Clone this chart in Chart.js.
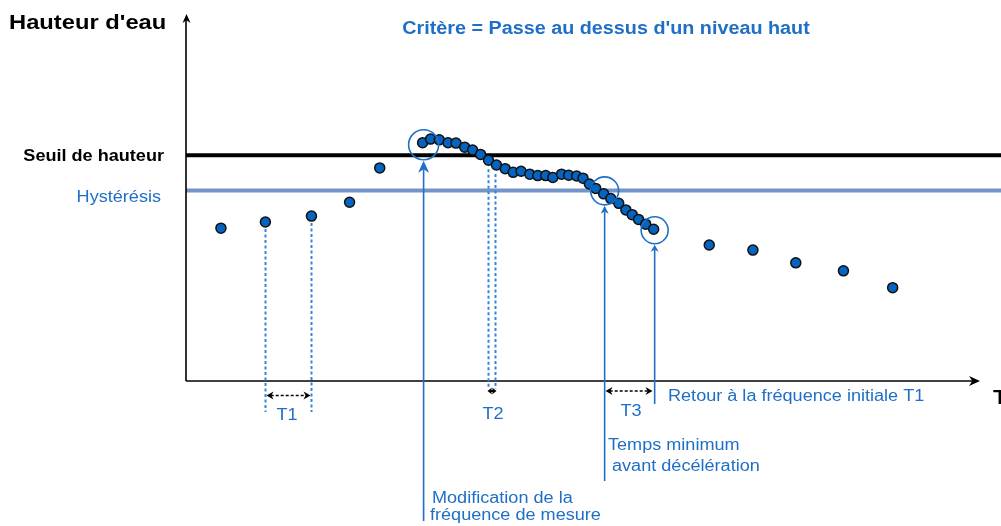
<!DOCTYPE html>
<html>
<head>
<meta charset="utf-8">
<script src="https://cdn.jsdelivr.net/npm/chart.js@4"></script>
<style>
  body { margin: 0; background: #fff; }
  canvas { display: block; }
</style>
</head>
<body>
<canvas id="niveau" width="1001" height="526"></canvas>
<script>
// Mesures de hauteur d'eau (temps, hauteur) en unités arbitraires
const temps = [
    4.4, 10.0, 15.8, 20.6, 24.4,
    29.8, 30.8, 31.9, 33.0, 34.0, 35.1, 36.1, 37.1, 38.1, 39.1,
    40.2, 41.2, 42.2, 43.3, 44.3, 45.3, 46.2, 47.3, 48.2, 49.2,
    50.0, 50.8, 51.6, 52.6, 53.5, 54.5, 55.4, 56.2, 57.0, 57.9, 58.9,
    65.9, 71.4, 76.8, 82.8, 89.0
];
const hauteur = [
    41.6, 43.3, 44.9, 48.7, 58.1,
    65.0, 66.0, 65.8, 65.0, 64.9, 63.8, 63.0, 61.8, 60.2, 58.9,
    57.9, 56.9, 57.2, 56.4, 56.0, 56.0, 55.5, 56.4, 56.1, 55.9,
    55.3, 53.7, 52.5, 51.0, 49.7, 48.4, 46.6, 45.3, 44.0, 42.7, 41.3,
    37.0, 35.6, 32.1, 29.9, 25.3
];
const seuil = 61.6;
const hysteresis = 51.9;

// indices des mesures repérées sur le schéma
const iT1 = [1, 2];
const iT2 = [13, 14];
const iT3 = [28, 35];
const iModif = 5;

const BLEU = '#1f6fc6';
const POINTILLE = '#3585da';
const SX = 1.13; // étirement horizontal du texte

function texte(ctx, s, x, y, font, color, align) {
    ctx.save();
    ctx.translate(x, y);
    ctx.scale(SX, 1);
    ctx.font = font;
    ctx.fillStyle = color;
    ctx.textAlign = align || 'left';
    ctx.textBaseline = 'alphabetic';
    ctx.fillText(s, 0, 0);
    ctx.restore();
}

// pointe de flèche pleine, sommet en (x, y), direction (dx, dy)
function pointe(ctx, x, y, dx, dy, len, w, color) {
    const px = -dy, py = dx;
    ctx.beginPath();
    ctx.moveTo(x, y);
    ctx.lineTo(x - dx * len + px * w, y - dy * len + py * w);
    ctx.lineTo(x - dx * len * 0.7, y - dy * len * 0.7);
    ctx.lineTo(x - dx * len - px * w, y - dy * len - py * w);
    ctx.closePath();
    ctx.fillStyle = color;
    ctx.fill();
}

function ligne(ctx, x1, y1, x2, y2, color, width, dash) {
    ctx.save();
    ctx.beginPath();
    ctx.setLineDash(dash || []);
    ctx.strokeStyle = color;
    ctx.lineWidth = width;
    ctx.moveTo(x1, y1);
    ctx.lineTo(x2, y2);
    ctx.stroke();
    ctx.restore();
}

function doubleFleche(ctx, x1, x2, y, len, w, dash, width) {
    ligne(ctx, x1 + len * 0.6, y, x2 - len * 0.6, y, '#000', width || 1.6, dash);
    pointe(ctx, x1, y, -1, 0, len, w, '#000');
    pointe(ctx, x2, y, 1, 0, len, w, '#000');
}

const schema = {
    id: 'schema',
    beforeDatasetsDraw(chart) {
        const { ctx, chartArea: a, scales: { x, y } } = chart;
        const px = i => Math.round(x.getPixelForValue(temps[i])) + 0.5;
        const py = i => y.getPixelForValue(hauteur[i]);

        // seuil et hystérésis
        ligne(ctx, a.left, y.getPixelForValue(seuil), chart.width, y.getPixelForValue(seuil), '#000', 4);
        ligne(ctx, a.left, y.getPixelForValue(hysteresis), chart.width, y.getPixelForValue(hysteresis), '#7394c9', 4);

        // axes
        const y0 = a.bottom + 1;
        ligne(ctx, a.left, y0, a.left, a.top + 4, '#000', 1.6);
        pointe(ctx, a.left + 0.5, a.top - 1, 0, -1, 9, 4, '#000');
        ligne(ctx, a.left, y0, a.right - 6, y0, '#000', 1.6);
        pointe(ctx, a.right, y0, 1, 0, 11, 5, '#000');

        // repères pointillés T1 et T2
        iT1.forEach(i => ligne(ctx, px(i), py(i) + 7, px(i), 412, POINTILLE, 2, [3, 2.5]));
        iT2.forEach(i => ligne(ctx, px(i) - 1, py(i) + 9, px(i) - 1, 389, POINTILLE, 2, [3, 2.5]));

        doubleFleche(ctx, px(iT1[0]) + 1, px(iT1[1]) - 1, 395.5, 7, 4, [3, 2]);
        doubleFleche(ctx, px(iT2[0]) - 2, px(iT2[1]), 391, 4.5, 3.5, [], 2.5);
        doubleFleche(ctx, px(iT3[0]) + 1, px(iT3[1]) - 2, 391, 7, 4, [3, 2]);
    },
    afterDatasetsDraw(chart) {
        const { ctx, scales: { x, y } } = chart;
        const px = i => x.getPixelForValue(temps[i]);
        const py = i => y.getPixelForValue(hauteur[i]);

        // cercles et flèches montantes
        const reperes = [
            { i: iModif, r: 15, dy: 2, bas: 521, len: 12, w: 5.5 },
            { i: iT3[0], r: 14, dy: -3, bas: 481, len: 8, w: 4 },
            { i: iT3[1], r: 13.5, dy: 1, bas: 404, len: 7, w: 4 }
        ];
        reperes.forEach(m => {
            const cx = px(m.i) + 1, cy = py(m.i) + m.dy;
            ctx.save();
            ctx.beginPath();
            ctx.strokeStyle = BLEU;
            ctx.lineWidth = 1.6;
            ctx.arc(cx, cy, m.r, 0, Math.PI * 2);
            ctx.stroke();
            ctx.restore();
            const tip = cy + m.r + 1;
            ligne(ctx, cx, m.bas, cx, tip + m.len * 0.7, BLEU, 1.6);
            pointe(ctx, cx, tip, 0, -1, m.len, m.w, BLEU);
        });

        // textes
        const f = 'px "Liberation Sans", Arial, sans-serif';
        texte(ctx, "Hauteur d'eau", 9, 29, 'bold 21' + f, '#000');
        texte(ctx, "Critère = Passe au dessus d'un niveau haut", 606, 34, 'bold 17.5' + f, BLEU, 'center');
        texte(ctx, 'Seuil de hauteur', 164, 161, 'bold 16' + f, '#000', 'right');
        texte(ctx, 'Hystérésis', 161, 202, '16' + f, BLEU, 'right');
        texte(ctx, 'Temps', 993, 404, 'bold 21' + f, '#000');
        texte(ctx, 'T1', 287, 420, '16' + f, BLEU, 'center');
        texte(ctx, 'T2', 493, 419, '16' + f, BLEU, 'center');
        texte(ctx, 'T3', 631, 416, '16' + f, BLEU, 'center');
        texte(ctx, 'Retour à la fréquence initiale T1', 668, 401, '16' + f, BLEU);
        texte(ctx, 'Temps minimum', 608, 450, '16' + f, BLEU);
        texte(ctx, ' avant décélération', 607, 471, '16' + f, BLEU);
        texte(ctx, 'Modification de la', 432, 503, '16' + f, BLEU);
        texte(ctx, 'fréquence de mesure', 430, 520, '16' + f, BLEU);
    }
};

const ctx = document.getElementById('niveau').getContext('2d');
const chart = new Chart(ctx, {
    type: 'scatter',
    data: {
        datasets: [{
            label: "Hauteur d'eau",
            data: temps.map((t, i) => ({ x: t, y: hauteur[i] })),
            pointRadius: 5,
            pointBackgroundColor: '#0563c1',
            pointBorderColor: '#111',
            pointBorderWidth: 1.5
        }]
    },
    options: {
        responsive: false,
        animation: false,
        layout: { padding: { left: 186, right: 21, top: 15, bottom: 146 } },
        plugins: { legend: { display: false }, tooltip: { enabled: false } },
        scales: {
            x: { type: 'linear', display: false, min: 0, max: 100 },
            y: { type: 'linear', display: false, min: 0, max: 100 }
        }
    },
    plugins: [schema]
});
</script>
</body>
</html>
